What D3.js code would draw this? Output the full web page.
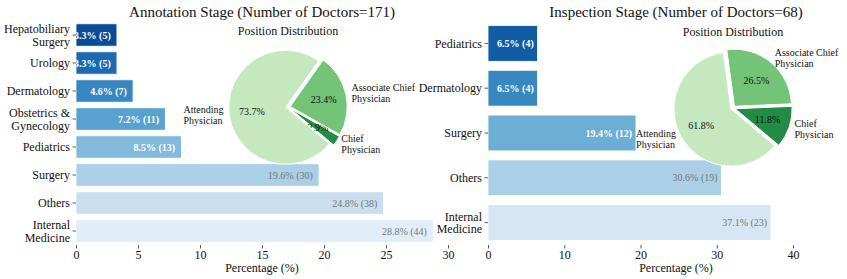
<!DOCTYPE html>
<html lang="en">
<head>
    <meta charset="UTF-8">
    <title>Doctor distribution by stage</title>
    <script src="https://d3js.org/d3.v7.min.js"></script>
    <style>
        body { margin: 0; background: #fff; }
        svg, svg text { font-family: "Liberation Serif", "Times New Roman", serif; }
        svg { display: block; }
        .tick line { stroke: #333; stroke-width: 0.8; }
        .tick text { font-size: 12px; fill: #111; }
    </style>
</head>
<body>
<div id="chart"></div>
<script>
    // Daten: Annotationsphase
    const annoDepts = ["Hepatobiliary\nSurgery", "Urology", "Dermatology", "Obstetrics &\nGynecology",
                       "Pediatrics", "Surgery", "Others", "Internal\nMedicine"];
    const annoPct = [3.3, 3.3, 4.6, 7.2, 8.5, 19.6, 24.8, 28.8];
    const annoCount = [5, 5, 7, 11, 13, 30, 38, 44];
    const annoTicks = [0, 5, 10, 15, 20, 25, 30];

    // Daten: Prüfungsphase
    const inspDepts = ["Pediatrics", "Dermatology", "Surgery", "Others", "Internal\nMedicine"];
    const inspPct = [6.5, 6.5, 19.4, 30.6, 37.1];
    const inspCount = [4, 4, 12, 19, 23];
    const inspTicks = [0, 10, 20, 30, 40];

    // Positionen (Reihenfolge gegen den Uhrzeigersinn)
    const positions = ["Chief\nPhysician", "Associate Chief\nPhysician", "Attending\nPhysician"];
    const annoPosPct = [2.9, 23.4, 73.7];
    const inspPosPct = [11.8, 26.5, 61.8];

    const width = 847, height = 279;
    const svg = d3.select("#chart").append("svg")
        .attr("width", width).attr("height", height);

    const greens = [d3.interpolateGreens(0.75), d3.interpolateGreens(0.5), d3.interpolateGreens(0.25)];

    // mehrzeiliger Text, vertikal um y=0 zentriert
    function multiline(sel, txt, lh, x) {
        const lines = txt.split("\n");
        lines.forEach((l, i) => {
            sel.append("tspan").attr("x", x || 0)
                .attr("dy", i === 0 ? (0.35 - (lines.length - 1) / 2 * lh) + "em" : lh + "em")
                .text(l);
        });
    }

    function drawBars(cfg) {
        const g = svg.append("g");
        const x = d3.scaleLinear().domain(cfg.domain).range([cfg.x0, cfg.x1]);
        const y = d3.scaleBand().domain(cfg.depts).range([21, 245]).paddingInner(0.2).paddingOuter(0.1);
        const n = cfg.depts.length;
        const shade = i => 1 - (i + 1) / (n + 1);

        g.selectAll("rect").data(cfg.pct).join("rect")
            .attr("x", x(0))
            .attr("y", (d, i) => y(cfg.depts[i]))
            .attr("width", d => x(d) - x(0))
            .attr("height", y.bandwidth())
            .attr("fill", (d, i) => d3.interpolateBlues(shade(i)))
            .attr("stroke", "#fff").attr("stroke-width", 0.8);

        g.selectAll("text.val").data(cfg.pct).join("text")
            .attr("class", "val")
            .attr("x", d => x(d - 0.5))
            .attr("y", (d, i) => y(cfg.depts[i]) + y.bandwidth() / 2)
            .attr("dy", "0.35em")
            .attr("text-anchor", "end")
            .style("font-size", "10px")
            .style("font-weight", (d, i) => shade(i) > 0.4 ? "bold" : "normal")
            .attr("fill", (d, i) => shade(i) > 0.4 ? "#fff" : "#777")
            .text((d, i) => `${d.toFixed(1)}% (${cfg.count[i]})`);

        const xa = g.append("g").attr("transform", "translate(0,245)")
            .call(d3.axisBottom(x).tickValues(cfg.ticks).tickSize(3.5).tickPadding(2))
            .attr("font-family", null);
        xa.select(".domain").remove();

        const ya = g.append("g").attr("transform", `translate(${cfg.x0},0)`)
            .call(d3.axisLeft(y).tickSize(3.5).tickPadding(2).tickFormat(""))
            .attr("font-family", null);
        ya.select(".domain").remove();
        ya.selectAll(".tick").append("text")
            .attr("text-anchor", "end")
            .style("font-size", "12px").attr("fill", "#111")
            .each(function (d) { multiline(d3.select(this), d, 1.05, -6); });

        svg.append("text").attr("x", (cfg.x0 + cfg.x1) / 2).attr("y", 268)
            .attr("dy", "0.35em").attr("text-anchor", "middle")
            .style("font-size", "12px").attr("fill", "#111")
            .text("Percentage (%)");

        svg.append("text").attr("x", (cfg.x0 + cfg.x1) / 2).attr("y", 12)
            .attr("dy", "0.35em").attr("text-anchor", "middle")
            .style("font-size", "15px").attr("fill", "#111")
            .text(cfg.title);
    }

    function drawPie(cx, cy, r, values) {
        const g = svg.append("g").attr("transform", `translate(${cx},${cy})`);
        const a0 = (90 + 40) * Math.PI / 180;
        const arcs = d3.pie().sort(null).startAngle(a0).endAngle(a0 - 2 * Math.PI)(values);
        const arc = d3.arc().innerRadius(0).outerRadius(r);
        const explode = 0.04 * r;

        arcs.forEach((a, i) => {
            const m = (a.startAngle + a.endAngle) / 2;
            const ux = Math.sin(m), uy = -Math.cos(m);
            const ox = ux * explode, oy = uy * explode;
            g.append("path")
                .attr("d", arc(a))
                .attr("transform", `translate(${ox},${oy})`)
                .attr("fill", greens[i])
                .attr("stroke", "#fff").attr("stroke-width", 1);

            g.append("text")
                .attr("x", ox + ux * r * 0.6).attr("y", oy + uy * r * 0.6)
                .attr("dy", "0.35em").attr("text-anchor", "middle")
                .style("font-size", "10px").attr("fill", "#111")
                .text(values[i].toFixed(1) + "%");

            const lab = g.append("text")
                .style("font-size", "10px").attr("fill", "#111");
            multiline(lab, positions[i], 1.1);
            const w = lab.node().getBBox().width;
            const lx = ox + ux * r * 1.1, ly = oy + uy * r * 1.1;
            lab.attr("transform", `translate(${ux > 0 ? lx : lx - w},${ly})`);
        });

        svg.append("text").attr("x", cx).attr("y", cy - r - 19)
            .attr("dy", "0.35em").attr("text-anchor", "middle")
            .style("font-size", "12px").attr("fill", "#111")
            .text("Position Distribution");
    }

    drawBars({ depts: annoDepts, pct: annoPct, count: annoCount, ticks: annoTicks,
               domain: [0, 30], x0: 76, x1: 448,
               title: "Annotation Stage (Number of Doctors=171)" });
    drawBars({ depts: inspDepts, pct: inspPct, count: inspCount, ticks: inspTicks,
               domain: [0, 49.3], x0: 488, x1: 864,
               title: "Inspection Stage (Number of Doctors=68)" });

    drawPie(288, 107, 57, annoPosPct);
    drawPie(733, 108, 57, inspPosPct);
</script>
</body>
</html>
